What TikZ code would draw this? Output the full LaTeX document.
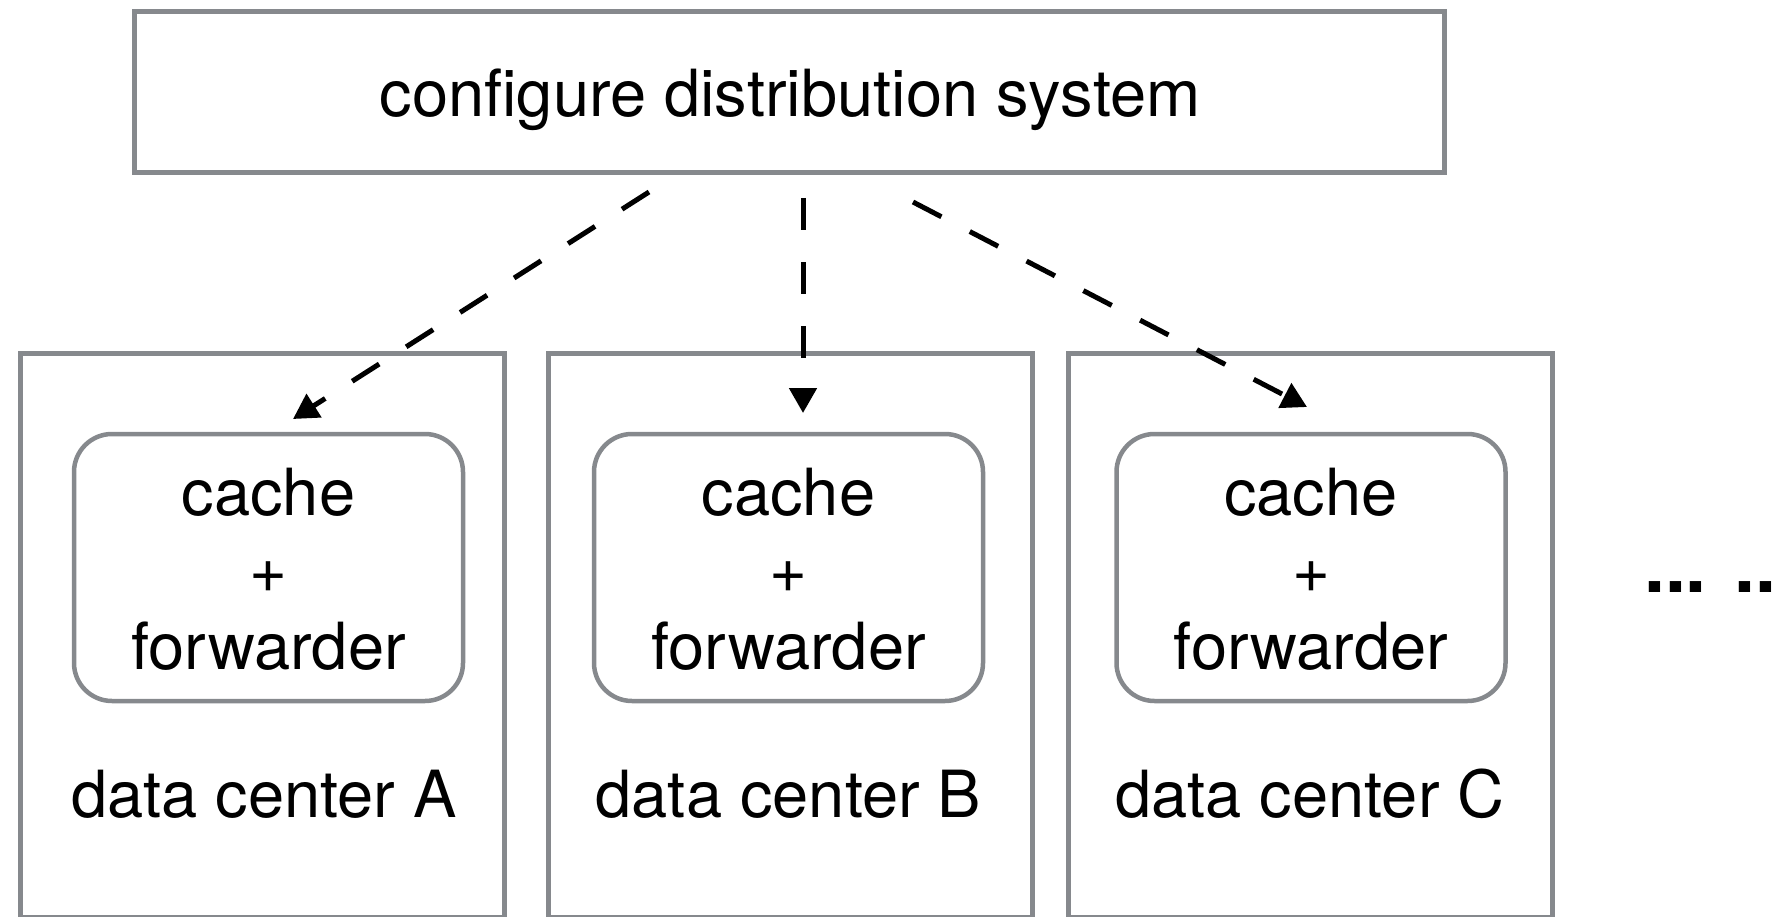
\documentclass[tikz,border=0pt]{standalone}
\usepackage{fontspec}
\setmainfont{TeX Gyre Heros}
\usetikzlibrary{arrows.meta}
\definecolor{boxgray}{RGB}{134,137,141}
\tikzset{
  outerbox/.style={draw=boxgray, line width=5pt, rectangle, inner sep=0pt, outer sep=0pt},
  innerbox/.style={draw=boxgray, line width=4.5pt, rectangle, rounded corners=38pt, inner sep=0pt, outer sep=0pt, minimum width=389pt, minimum height=267pt},
  dcbox/.style={outerbox, minimum width=484pt, minimum height=564pt},
  lbl/.style={font=\fontsize{65pt}{78pt}\selectfont, inner sep=0pt, outer sep=0pt, anchor=base, text=black},
  flow/.style={line width=5pt, dash pattern=on 32pt off 32pt, -{Triangle[length=25pt,width=27pt]}},
}
\begin{document}
\begin{tikzpicture}[x=1pt,y=-1pt]
\useasboundingbox (0,0) rectangle (1776,917);
% top box
\node[outerbox, minimum width=1310pt, minimum height=161pt] (top) at (789,92.5) {};
\node[lbl] (toptxt) at (790,117) {configure distribution system};
% data centers
\node[dcbox] (dcA) at (262,635) {};
\node[dcbox] (dcB) at (790.5,635) {};
\node[dcbox] (dcC) at (1310,635) {};
% inner boxes
\node[innerbox] (cfA) at (268.5,567.5) {};
\node[innerbox] (cfB) at (788.5,567.5) {};
\node[innerbox] (cfC) at (1311,567.5) {};
% texts A
\node[lbl] (cA1) at (268.5,515) {cache};
\node[lbl] (cA2) at (268.5,592) {+};
\node[lbl] (cA3) at (268.5,669) {forwarder};
\node[lbl] (dA) at (264,817) {data center A};
% texts B
\node[lbl] (cB1) at (788.5,515) {cache};
\node[lbl] (cB2) at (788.5,592) {+};
\node[lbl] (cB3) at (788.5,669) {forwarder};
\node[lbl] (dB) at (788.5,817) {data center B};
% texts C
\node[lbl] (cC1) at (1311,515) {cache};
\node[lbl] (cC2) at (1311,592) {+};
\node[lbl] (cC3) at (1311,669) {forwarder};
\node[lbl] (dC) at (1310,817) {data center C};
% dots
\node[font=\fontsize{75pt}{90pt}\selectfont\bfseries, inner sep=0pt, anchor=base west] (more) at (1644,592) {... ...};
% arrows
\coordinate (sA) at (649,192);
\coordinate (tA) at (293,419);
\coordinate (sB) at (803,198);
\coordinate (tB) at (803,413);
\coordinate (sC) at (913,202);
\coordinate (tC) at (1307,407);
\draw[flow] (sA) -- (tA);
\draw[flow] (sB) -- (tB);
\draw[flow] (sC) -- (tC);
\end{tikzpicture}
\end{document}
